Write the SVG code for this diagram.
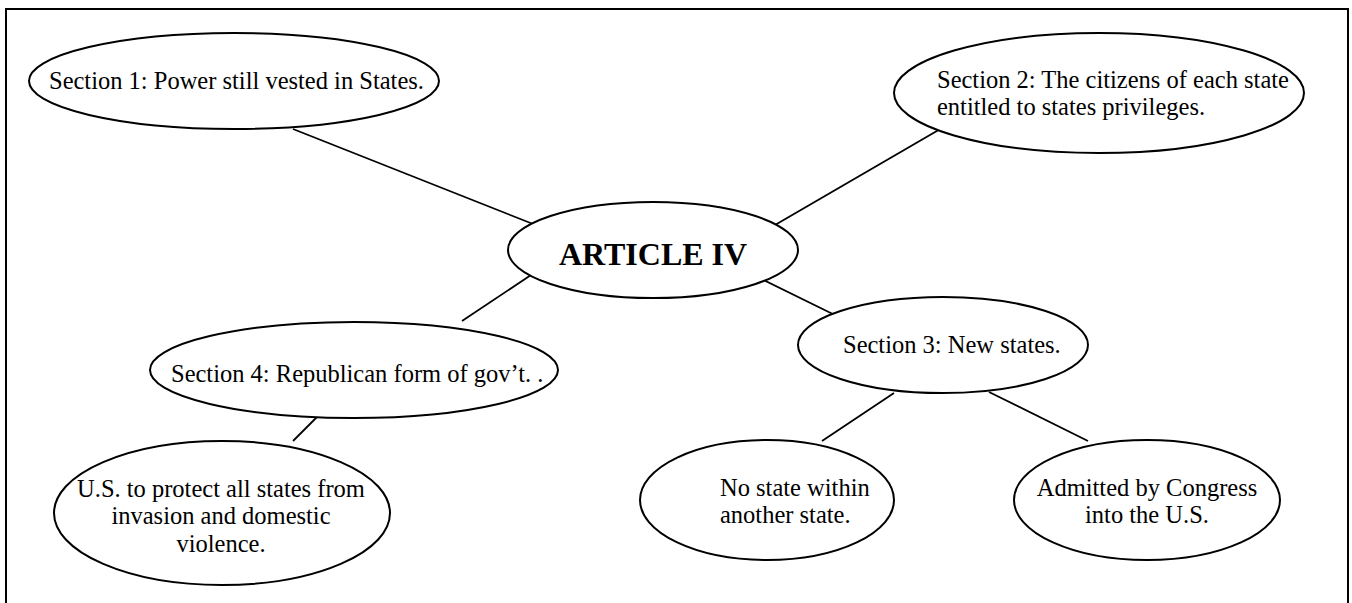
<svg xmlns="http://www.w3.org/2000/svg" width="1352" height="603" viewBox="0 0 1352 603">
<style>
.n{fill:#fff;stroke:#000;stroke-width:2}
.t{font-family:"Liberation Serif","Times New Roman",serif;font-size:24.5px;fill:#000}
.b{font-family:"Liberation Serif","Times New Roman",serif;font-size:32px;font-weight:bold;fill:#000}
.c line{stroke:#000;stroke-width:1.8}
</style>
<rect x="0" y="0" width="1352" height="603" fill="#fff"/>
<rect x="6" y="9" width="1342" height="610" fill="none" stroke="#000" stroke-width="2"/>
<g class="c" id="connectors">
<line x1="293" y1="129" x2="533" y2="224"/>
<line x1="942" y1="128" x2="775" y2="225"/>
<line x1="534" y1="273" x2="462" y2="321"/>
<line x1="749" y1="273" x2="847" y2="321"/>
<line x1="317" y1="417" x2="293" y2="441"/>
<line x1="894" y1="393" x2="822" y2="441"/>
<line x1="989" y1="392" x2="1088" y2="441"/>
</g>
<g id="sec1">
<ellipse class="n" cx="234" cy="81" rx="205" ry="48"/>
<text class="t" x="49" y="89">Section 1: Power still vested in States.</text>
</g>
<g id="sec2">
<ellipse class="n" cx="1099" cy="93" rx="205" ry="60"/>
<text class="t" x="937" y="88">Section 2: The citizens of each state</text>
<text class="t" x="937" y="115">entitled to states privileges.</text>
</g>
<g id="article">
<ellipse class="n" cx="653" cy="250" rx="145" ry="48"/>
<text class="b" x="653" y="265" text-anchor="middle">ARTICLE IV</text>
</g>
<g id="sec4">
<ellipse class="n" cx="354" cy="370" rx="204" ry="48"/>
<text class="t" x="171" y="382">Section 4: Republican form of gov’t. .</text>
</g>
<g id="sec3">
<ellipse class="n" cx="943" cy="345" rx="145" ry="48"/>
<text class="t" x="843" y="353">Section 3: New states.</text>
</g>
<g id="protect">
<ellipse class="n" cx="222" cy="513" rx="168" ry="72"/>
<text class="t" x="221" y="497" text-anchor="middle">U.S. to protect all states from</text>
<text class="t" x="221" y="524" text-anchor="middle">invasion and domestic</text>
<text class="t" x="221" y="552" text-anchor="middle">violence.</text>
</g>
<g id="nostate">
<ellipse class="n" cx="767" cy="500" rx="127" ry="60"/>
<text class="t" x="720" y="496">No state within</text>
<text class="t" x="720" y="523">another state.</text>
</g>
<g id="admitted">
<ellipse class="n" cx="1147" cy="500" rx="133" ry="60"/>
<text class="t" x="1147" y="496" text-anchor="middle">Admitted by Congress</text>
<text class="t" x="1147" y="523" text-anchor="middle">into the U.S.</text>
</g>
</svg>
